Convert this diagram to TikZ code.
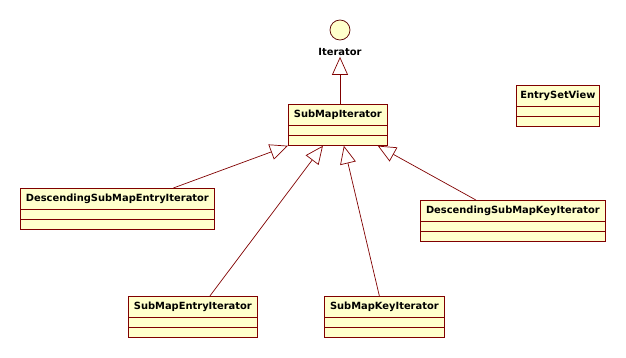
\documentclass[tikz,border=0pt]{standalone}
\usepackage{fontspec}
\setmainfont{DejaVu Sans}
\usepackage{tikz}
\usetikzlibrary{
  calc,          % anchor offsets on the class boxes
  arrows.meta    % open triangle for generalisation
}

\definecolor{umlred}{RGB}{128,0,0}
\definecolor{umlfill}{RGB}{255,255,204}

\tikzset{
  cls/.style={draw=umlred, fill=umlfill, anchor=north west, inner sep=0pt, line width=0.75pt,
    minimum height=21pt, font=\fontsize{9.9}{11}\selectfont\bfseries},
  clsline/.style={draw=umlred, fill=umlfill, line width=0.75pt},
  gen/.style={draw=umlred, line width=0.7pt,
    -{Triangle[open, length=18pt, width=16pt, fill=white]}}
}

% two empty compartments under a class name
\newcommand{\compartments}[1]{%
  \draw[clsline] (#1.south west) rectangle ($(#1.south east)+(0,10)$);
  \draw[clsline] ($(#1.south west)+(0,10)$) rectangle ($(#1.south east)+(0,20)$);
  \coordinate (#1-bl) at ($(#1.south west)+(0,20)$);
  \coordinate (#1-br) at ($(#1.south east)+(0,20)$);
}

\begin{document}
\begin{tikzpicture}[x=1pt, y=-1pt]
  \useasboundingbox (0,0) rectangle (626,358);

  % Interface as a lollipop
  \node[circle, draw=umlred!70!black, fill=umlfill, line width=0.75pt, minimum size=20pt, inner sep=0pt] (iter) at (340,30) {};
  \node[font=\fontsize{9.9}{11}\selectfont\bfseries, inner sep=1pt] (iterlbl) at (340,52) {Iterator};

  % Classes
  \node[cls, minimum width=99pt] (smi) at (288,104) {SubMapIterator};
  \compartments{smi}
  \node[cls, minimum width=83pt] (esv) at (516,85) {EntrySetView};
  \compartments{esv}
  \node[cls, minimum width=194pt] (dsmei) at (20,188) {DescendingSubMapEntryIterator};
  \compartments{dsmei}
  \node[cls, minimum width=185pt] (dsmki) at (420,200) {DescendingSubMapKeyIterator};
  \compartments{dsmki}
  \node[cls, minimum width=129pt] (smei) at (128,296) {SubMapEntryIterator};
  \compartments{smei}
  \node[cls, minimum width=120pt] (smki) at (324,296) {SubMapKeyIterator};
  \compartments{smki}

  % Generalisations
  \draw[gen] (iterlbl.south |- smi.north) -- (iterlbl.south);
  \draw[gen] ($(dsmei.north)+(56,0)$) -- (smi-bl);
  \draw[gen] ($(smei.north)+(17,0)$) -- ($(smi-bl)!0.35!(smi-br)$);
  \draw[gen] ($(smki.north)+(-5,0)$) -- ($(smi-bl)!0.56!(smi-br)$);
  \draw[gen] ($(dsmki.north)+(-37,0)$) -- ($(smi-bl)!0.9!(smi-br)$);
\end{tikzpicture}
\end{document}
